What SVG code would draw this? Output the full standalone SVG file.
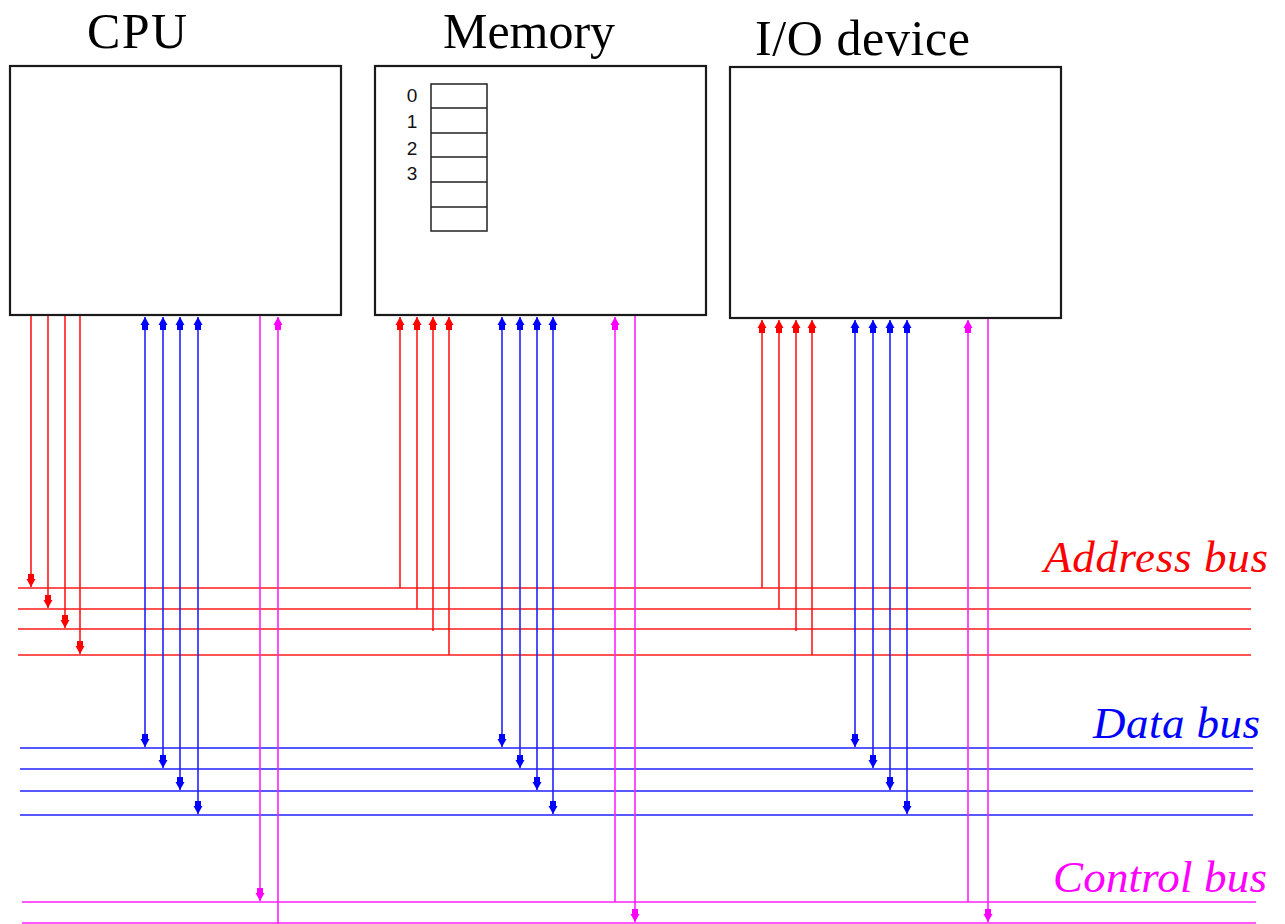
<svg xmlns="http://www.w3.org/2000/svg" width="1285" height="924" viewBox="0 0 1285 924">
<style>
.box{fill:#fff;stroke:#1a1a1a;stroke-width:2.2}
.cell{fill:none;stroke:#222;stroke-width:1.5}
.title{font-family:"Liberation Serif",serif;font-size:50px;fill:#000}
.num{font-family:"Liberation Sans",sans-serif;font-size:19px;fill:#111;text-anchor:middle}
.lbl{font-family:"Liberation Serif",serif;font-style:italic;font-size:45px}
.r{stroke:#ff1a1a;stroke-width:1.6;fill:none}
.b{stroke:#2222ff;stroke-width:1.6;fill:none}
.m{stroke:#ff22ff;stroke-width:1.6;fill:none}
</style>
<defs>
<marker id="ar" markerUnits="userSpaceOnUse" markerWidth="16" markerHeight="12" refX="13" refY="5" orient="auto-start-reverse"><path d="M0,2 L5,2 L5,0.5 L13,5 L5,9.5 L5,8 L0,8 Z" fill="#ff0000"/></marker>
<marker id="ab" markerUnits="userSpaceOnUse" markerWidth="16" markerHeight="12" refX="13" refY="5" orient="auto-start-reverse"><path d="M0,2 L5,2 L5,0.5 L13,5 L5,9.5 L5,8 L0,8 Z" fill="#0000ff"/></marker>
<marker id="am" markerUnits="userSpaceOnUse" markerWidth="16" markerHeight="12" refX="13" refY="5" orient="auto-start-reverse"><path d="M0,2 L5,2 L5,0.5 L13,5 L5,9.5 L5,8 L0,8 Z" fill="#ff00ff"/></marker>
</defs>
<rect width="1285" height="924" fill="#fff"/>

<g id="cpu">
<rect class="box" x="10" y="66" width="331" height="249"/>
<text class="title" x="87" y="48" textLength="100">CPU</text>
</g>

<g id="memory">
<rect class="box" x="375" y="66" width="331" height="249"/>
<text class="title" x="443" y="48" textLength="172">Memory</text>
<rect class="cell" x="431" y="84" width="56" height="147"/>
<path class="cell" d="M431,108H487M431,133H487M431,157H487M431,182H487M431,207H487"/>
<text class="num" x="412" y="102">0</text>
<text class="num" x="412" y="128">1</text>
<text class="num" x="412" y="155">2</text>
<text class="num" x="412" y="180">3</text>
</g>

<g id="io">
<rect class="box" x="730" y="67" width="331" height="251"/>
<text class="title" x="755" y="55" textLength="215">I/O device</text>
</g>

<g id="address-bus">
<path class="r" d="M18,588H1251M18,609H1251M18,629H1251M18,655H1251"/>
<text class="lbl" x="1044" y="572" fill="#ff0000" textLength="224">Address bus</text>
</g>
<g id="data-bus">
<path class="b" d="M20,748H1253M20,769H1253M20,791H1253M20,815H1253"/>
<text class="lbl" x="1093" y="738" fill="#0000ff" textLength="167">Data bus</text>
</g>
<g id="control-bus">
<path class="m" d="M22,902H1256M22,923H1256"/>
<text class="lbl" x="1053" y="892" fill="#ff00ff" textLength="214">Control bus</text>
</g>

<g id="connectors">
<path class="r" marker-end="url(#ar)" d="M31,316V587"/>
<path class="r" marker-end="url(#ar)" d="M48,316V608"/>
<path class="r" marker-end="url(#ar)" d="M65,316V628"/>
<path class="r" marker-end="url(#ar)" d="M80,316V654"/>
<path class="b" marker-start="url(#ab)" marker-end="url(#ab)" d="M145,317V747"/>
<path class="b" marker-start="url(#ab)" marker-end="url(#ab)" d="M163,317V768"/>
<path class="b" marker-start="url(#ab)" marker-end="url(#ab)" d="M180,317V790"/>
<path class="b" marker-start="url(#ab)" marker-end="url(#ab)" d="M198,317V814"/>
<path class="m" marker-end="url(#am)" d="M260,316V901"/>
<path class="m" marker-end="url(#am)" d="M278,924V317"/>

<path class="r" marker-end="url(#ar)" d="M400,588V317"/>
<path class="r" marker-end="url(#ar)" d="M417,609V317"/>
<path class="r" marker-end="url(#ar)" d="M433,631V317"/>
<path class="r" marker-end="url(#ar)" d="M449,655V317"/>
<path class="b" marker-start="url(#ab)" marker-end="url(#ab)" d="M502,317V747"/>
<path class="b" marker-start="url(#ab)" marker-end="url(#ab)" d="M520,317V768"/>
<path class="b" marker-start="url(#ab)" marker-end="url(#ab)" d="M537,317V790"/>
<path class="b" marker-start="url(#ab)" marker-end="url(#ab)" d="M553,317V814"/>
<path class="m" marker-end="url(#am)" d="M615,902V317"/>
<path class="m" marker-end="url(#am)" d="M635,316V922"/>

<path class="r" marker-end="url(#ar)" d="M762,588V320"/>
<path class="r" marker-end="url(#ar)" d="M779,609V320"/>
<path class="r" marker-end="url(#ar)" d="M796,631V320"/>
<path class="r" marker-end="url(#ar)" d="M812,655V320"/>
<path class="b" marker-start="url(#ab)" marker-end="url(#ab)" d="M855,320V747"/>
<path class="b" marker-start="url(#ab)" marker-end="url(#ab)" d="M873,320V768"/>
<path class="b" marker-start="url(#ab)" marker-end="url(#ab)" d="M890,320V790"/>
<path class="b" marker-start="url(#ab)" marker-end="url(#ab)" d="M907,320V814"/>
<path class="m" marker-end="url(#am)" d="M968,902V320"/>
<path class="m" marker-end="url(#am)" d="M988,319V922"/>
</g>
</svg>
